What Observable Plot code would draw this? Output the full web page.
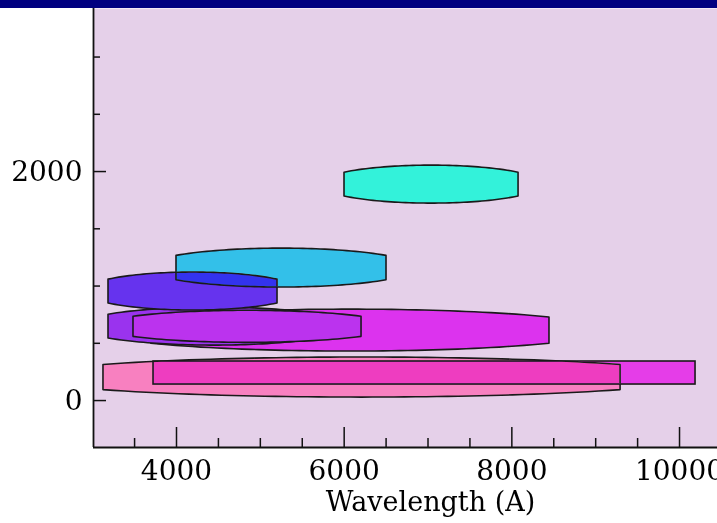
<!DOCTYPE html>
<html>
<head>
<meta charset="utf-8">
<script src="https://cdn.jsdelivr.net/npm/d3@7"></script>
<script src="https://cdn.jsdelivr.net/npm/@observablehq/plot@0.6"></script>
<style>
  html, body { margin: 0; padding: 0; background: #ffffff; width: 717px; height: 523px; overflow: hidden; }
  #band { height: 8px; background: #000080; width: 717px; }
  #chart svg { display: block; }
</style>
</head>
<body>
<div id="band"></div>
<div id="chart"></div>
<script>
// ---- data ----
const shapeNames = ["lightPink", "purpleWide", "violet", "purple", "blueViolet", "skyBlue", "cyan"];
const xStart  = [3129, 3700, 3189, 3487, 3189, 4000, 6004];
const xEnd    = [9297, 8449, 5718, 6207, 5205, 6505, 8080];
const yCenter = [ 201,  611,  646,  644,  952, 1157, 1886];
const yHalf   = [ 175,  183,  166,  140,  166,  170,  166];

const barName = ["magentaBar"];
const barX0 = [3726];
const barX1 = [10191];
const barY0 = [140];
const barY1 = [341];

const xTicksMajor = [4000, 6000, 8000, 10000];
const xTicksMinor = [3500, 4500, 5000, 5500, 6500, 7000, 7500, 8500, 9000, 9500];
const yTicksMajor = [0, 2000];
const yTicksMinor = [500, 1000, 1500, 2500, 3000];
const xLabel = "Wavelength (A)";

// ---- styles ----
const shapeColors = {
  lightPink: "#f880c0", purpleWide: "#dc33ee", violet: "#9a33ee", purple: "#bb33ee",
  blueViolet: "#6633ee", skyBlue: "#33c0f0", cyan: "#33f2da"
};
const shapeBlend = { skyBlue: "darken" };
const barColor = "#ee3de8";
const lineColor = "#1a1a1a";

const W = 717, H = 515;
const mL = 93, mR = 0, mT = 0, mB = 76;
const xDom = [3010, 10453];
const yDom = [-410, 3424];
const kx = (xDom[1] - xDom[0]) / (W - mL - mR);
const ky = (yDom[1] - yDom[0]) / (H - mT - mB);

// ellipse outline (clipped at the ends) built from each shape's extent
function outline(i) {
  const n = 48, k = 0.78, pts = [];
  for (let j = 0; j <= n; j++) {
    const t = -1 + 2 * j / n;
    const half = yHalf[i] * Math.sqrt(1 - (k * t) ** 2);
    pts.push({x: xStart[i] + (t + 1) / 2 * (xEnd[i] - xStart[i]), lo: yCenter[i] - half, hi: yCenter[i] + half});
  }
  return pts;
}
function shapeMark(name) {
  const i = shapeNames.indexOf(name);
  return Plot.areaY(outline(i), {
    x: "x", y1: "lo", y2: "hi", curve: "linear",
    fill: shapeColors[name], stroke: lineColor, strokeWidth: 1.6,
    mixBlendMode: shapeBlend[name] || "normal"
  });
}
const bars = barName.map((n, i) => ({x0: barX0[i], x1: barX1[i], y0: barY0[i], y1: barY1[i]}));

const fontFam = "DejaVu Serif, serif";
const chart = Plot.plot({
  width: W, height: H,
  marginLeft: mL, marginRight: mR, marginTop: mT, marginBottom: mB,
  x: {domain: xDom, axis: null},
  y: {domain: yDom, axis: null},
  style: {background: "transparent", overflow: "hidden"},
  marks: [
    Plot.frame({fill: "#e5d0e9", stroke: "none"}),
    shapeMark("lightPink"),
    Plot.rect(bars, {x1: "x0", x2: "x1", y1: "y0", y2: "y1", fill: barColor, stroke: lineColor, strokeWidth: 1.6, mixBlendMode: "darken"}),
    shapeMark("purpleWide"),
    shapeMark("violet"),
    shapeMark("purple"),
    shapeMark("blueViolet"),
    shapeMark("skyBlue"),
    shapeMark("cyan"),
    // axes lines
    Plot.ruleX([xDom[0]], {stroke: "#111", strokeWidth: 1.8}),
    Plot.ruleY([yDom[0]], {stroke: "#111", strokeWidth: 1.8}),
    // x ticks (inward)
    Plot.ruleX(xTicksMajor, {x: d => d, y1: yDom[0], y2: yDom[0] + 20 * ky, stroke: "#111", strokeWidth: 1.5}),
    Plot.ruleX(xTicksMinor, {x: d => d, y1: yDom[0], y2: yDom[0] + 9 * ky, stroke: "#111", strokeWidth: 1.5}),
    // y ticks (inward)
    Plot.ruleY(yTicksMajor, {y: d => d, x1: xDom[0], x2: xDom[0] + 13 * kx, stroke: "#111", strokeWidth: 1.5}),
    Plot.ruleY(yTicksMinor, {y: d => d, x1: xDom[0], x2: xDom[0] + 7 * kx, stroke: "#111", strokeWidth: 1.5}),
    // tick labels
    Plot.text(xTicksMajor, {x: d => d, y: yDom[0], dy: 24, text: d => String(d), fontSize: 28, fontFamily: fontFam, fill: "#000"}),
    Plot.text(yTicksMajor, {y: d => d, x: xDom[0], dx: -11, textAnchor: "end", text: d => String(d), fontSize: 28, fontFamily: fontFam, fill: "#000"}),
    // axis title
    Plot.text([xLabel], {frameAnchor: "bottom", dx: 25, dy: 63, text: d => d, fontSize: 27, fontFamily: fontFam, fill: "#000", letterSpacing: "2.8px"})
  ]
});
document.getElementById("chart").appendChild(chart);
</script>
</body>
</html>
